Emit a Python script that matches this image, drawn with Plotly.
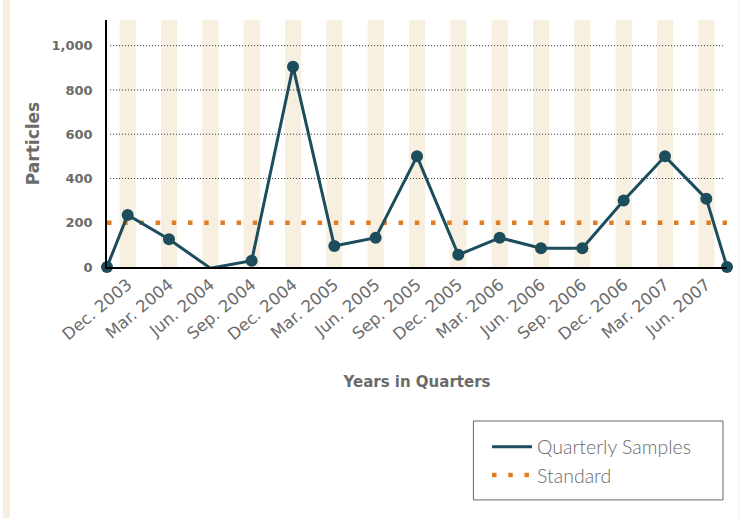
import plotly.graph_objects as go

quarters = ["Dec. 2003", "Mar. 2004", "Jun. 2004", "Sep. 2004", "Dec. 2004",
            "Mar. 2005", "Jun. 2005", "Sep. 2005", "Dec. 2005", "Mar. 2006",
            "Jun. 2006", "Sep. 2006", "Dec. 2006", "Mar. 2007", "Jun. 2007"]
samples = [235, 125, -5, 28, 905, 95, 132, 500, 55, 132, 85, 85, 300, 500, 308]
lead_value = 0
trail_value = 0
standard_value = 200
y_ticks = [0, 200, 400, 600, 800, 1000]

TEAL = "#1b4d5c"
ORANGE = "#e07d22"
BEIGE = "#f7f0e0"
GREY = "#6b6b6b"
TICKFONT = "DejaVu Sans"
LEGFONT = "Lato"

pos = list(range(len(quarters)))
x_line = [pos[0] - 0.5] + pos + [pos[-1] + 0.5]
y_line = [lead_value] + samples + [trail_value]

fig = go.Figure()
fig.add_trace(go.Scatter(
    x=[pos[0] - 0.5, pos[-1] + 0.5], y=[standard_value, standard_value],
    mode="lines", name="Standard",
    line=dict(color=ORANGE, width=4.5, dash="4.5px,11.7px"),
    cliponaxis=False, hoverinfo="skip"))
fig.add_trace(go.Scatter(
    x=x_line, y=y_line, mode="lines", name="Quarterly Samples",
    line=dict(color=TEAL, width=3), cliponaxis=False))
fig.add_trace(go.Scatter(
    x=x_line, y=y_line, mode="markers", name="Quarterly Samples", showlegend=False,
    marker=dict(color=TEAL, size=12), cliponaxis=False))

shapes = []
for p in pos:
    shapes.append(dict(type="rect", xref="x", yref="paper", x0=p - 0.195, x1=p + 0.195,
                       y0=0, y1=1, fillcolor=BEIGE, line=dict(width=0), layer="below"))
for v in y_ticks:
    if v in (0, standard_value):
        continue
    shapes.append(dict(type="line", xref="paper", yref="y", x0=0.005, x1=0.995, y0=v, y1=v,
                       line=dict(color="#333333", width=1, dash="1px,2px"), layer="below"))
# left decorative page strip and right page edge
shapes.append(dict(type="rect", xref="paper", yref="paper", x0=-0.1677, x1=-0.1565,
                   y0=-1.02, y1=1.09, fillcolor=BEIGE, line=dict(width=0), layer="below"))
shapes.append(dict(type="line", xref="paper", yref="paper", x0=1.019, x1=1.019,
                   y0=-1.02, y1=1.09, line=dict(color="#eeeeee", width=1), layer="below"))
# legend frame
shapes.append(dict(type="rect", xref="paper", yref="paper", x0=0.591, x1=0.9935,
                   y0=-0.943, y1=-0.6235, line=dict(color="#666666", width=1),
                   fillcolor="rgba(0,0,0,0)", layer="above"))

fig.update_layout(
    width=742, height=518,
    margin=dict(l=107, r=15, t=20, b=251, autoexpand=False),
    paper_bgcolor="white", plot_bgcolor="white",
    font=dict(family=TICKFONT, color=GREY),
    shapes=shapes,
    showlegend=True,
    legend=dict(x=0.613, y=-0.65, xanchor="left", yanchor="top",
                bgcolor="rgba(0,0,0,0)", borderwidth=0, traceorder="reversed",
                font=dict(family=LEGFONT, size=19.5, color=GREY, weight=300),
                itemwidth=40),
    xaxis=dict(range=[pos[0] - 0.5, pos[-1] + 0.5], tickvals=pos, ticktext=quarters,
               tickangle=-40, showgrid=False, zeroline=False, showline=True,
               linecolor="black", linewidth=1.5, ticks="",
               tickfont=dict(family=TICKFONT, size=16.5, color=GREY),
               title=dict(text="Years in Quarters", standoff=34,
                          font=dict(family=TICKFONT, size=15, color=GREY, weight="bold"))),
    yaxis=dict(range=[0, 1116], tickvals=y_ticks, tickformat=",d", showgrid=False,
               zeroline=False, showline=True, linecolor="black", linewidth=1.5, ticks="",
               ticklabelstandoff=10,
               tickfont=dict(family=TICKFONT, size=13, color=GREY, weight="bold"),
               title=dict(text="Particles", standoff=8,
                          font=dict(family=TICKFONT, size=17, color=GREY, weight="bold"))),
)

fig.write_html("out.html", post_script="document.body.style.margin='0';",
               config={"displayModeBar": False})
